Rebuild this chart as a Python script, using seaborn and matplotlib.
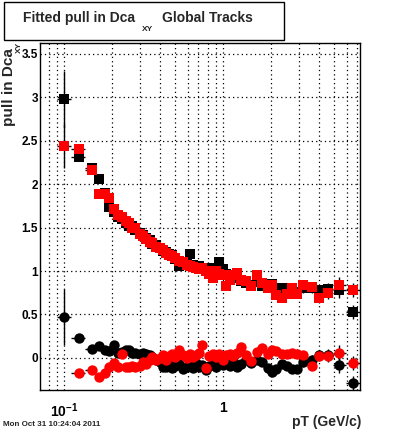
import numpy as np
import pandas as pd
import seaborn as sns
import matplotlib
matplotlib.use("Agg")
import matplotlib.pyplot as plt
from matplotlib.patches import Rectangle
from matplotlib.ticker import FixedLocator, FixedFormatter, NullFormatter, MultipleLocator

# pT bin centres (GeV/c)
pT = [0.100, 0.124, 0.150, 0.166, 0.180, 0.193, 0.205, 0.218, 0.232, 0.245,
      0.256, 0.268, 0.280, 0.300, 0.315, 0.330, 0.345, 0.360, 0.380, 0.400,
      0.420, 0.440, 0.460, 0.480, 0.500, 0.530, 0.560, 0.590, 0.620, 0.650,
      0.680, 0.710, 0.740, 0.780, 0.820, 0.860, 0.900, 0.950, 1.000, 1.050,
      1.100, 1.150, 1.220, 1.300, 1.400, 1.500, 1.630, 1.760, 1.920, 2.030,
      2.150, 2.350, 2.520, 2.720, 2.920, 3.180, 3.630, 4.010, 4.570, 5.350,
      6.570]

# fitted sigma of the pull (squares)
sigma_black = [2.98, 2.31, 2.19, 2.06, 1.90, 1.74, 1.68, 1.62, 1.60, 1.55,
               1.52, 1.52, 1.47, 1.44, 1.41, 1.38, 1.36, 1.31, 1.30, 1.27,
               1.23, 1.22, 1.20, 1.18, 1.14, 1.06, 1.10, 1.09, 1.20, 1.07,
               1.05, 1.06, 1.02, 1.04, 1.00, 0.99, 1.03, 1.10, 1.02, 0.97,
               0.94, 0.92, 0.93, 0.88, 0.86, 0.84, 0.87, 0.83, 0.80, 0.85,
               0.76, 0.80, 0.78, 0.79, 0.76, 0.80, 0.80, 0.78, 0.79, 0.78,
               0.53]
sigma_red = [2.44, 2.40, 2.16, 1.89, 1.89, 1.84, 1.71, 1.65, 1.62, 1.58,
             1.55, 1.50, 1.49, 1.43, 1.40, 1.37, 1.33, 1.32, 1.28, 1.27,
             1.24, 1.21, 1.18, 1.17, 1.15, 1.12, 1.10, 1.07, 1.06, 1.05,
             1.03, 1.02, 1.04, 1.00, 0.96, 0.92, 1.00, 0.97, 0.95, 0.83,
             0.90, 0.95, 0.98, 0.90, 0.88, 0.83, 0.95, 0.86, 0.80, 0.84,
             0.72, 0.69, 0.74, 0.81, 0.74, 0.84, 0.82, 0.69, 0.75, 0.84,
             0.78]

# fitted mean of the pull (circles)
mean_black = [0.47, 0.23, 0.10, 0.14, 0.09, 0.08, 0.15, 0.06, 0.07, 0.09,
              0.09, 0.06, 0.06, 0.04, 0.06, 0.05, 0.03, 0.01, -0.02, -0.05,
              -0.10, -0.11, -0.08, -0.12, -0.09, -0.07, -0.13, -0.10, -0.08, -0.12,
              -0.06, -0.10, -0.08, -0.14, -0.09, -0.07, -0.10, -0.05, -0.08, -0.06,
              -0.09, -0.04, -0.10, -0.07, -0.03, -0.06, -0.02, -0.05, -0.12, -0.16,
              -0.13, -0.07, -0.09, -0.13, -0.13, -0.05, -0.02, 0.03, 0.03, -0.08,
              -0.29]
mean_red = [np.nan, -0.18, -0.14, -0.22, -0.18, -0.10, -0.06, -0.10, 0.05, -0.10,
            -0.10, -0.09, -0.10, -0.09, -0.05, -0.07, -0.02, 0.01, -0.03, 0.00,
            0.03, -0.02, 0.02, 0.04, 0.01, 0.09, 0.03, 0.00, 0.05, 0.01,
            0.03, 0.06, 0.15, -0.12, 0.02, 0.05, 0.01, 0.04, -0.02, 0.03,
            0.05, 0.02, 0.06, 0.13, 0.03, -0.04, 0.07, 0.11, 0.05, 0.09,
            0.08, 0.04, 0.05, 0.06, 0.05, 0.03, -0.09, 0.02, 0.02, 0.06,
            -0.06]

# statistical errors
err_black = [0.32, 0.04, 0.03, 0.03, 0.03, 0.03, 0.02, 0.02, 0.02, 0.02,
             0.02, 0.02, 0.02, 0.02, 0.02, 0.02, 0.02, 0.02, 0.02, 0.02,
             0.02, 0.02, 0.02, 0.02, 0.02, 0.02, 0.02, 0.02, 0.02, 0.02,
             0.02, 0.02, 0.02, 0.02, 0.02, 0.02, 0.02, 0.02, 0.02, 0.02,
             0.02, 0.02, 0.03, 0.03, 0.03, 0.03, 0.03, 0.03, 0.03, 0.03,
             0.04, 0.04, 0.04, 0.04, 0.05, 0.05, 0.05, 0.06, 0.07, 0.09,
             0.08]
err_red = [0.25, 0.04, 0.03, 0.03, 0.03, 0.03, 0.02, 0.02, 0.02, 0.02,
           0.02, 0.02, 0.02, 0.02, 0.02, 0.02, 0.02, 0.02, 0.02, 0.02,
           0.02, 0.02, 0.02, 0.02, 0.02, 0.02, 0.02, 0.02, 0.02, 0.02,
           0.02, 0.02, 0.02, 0.02, 0.02, 0.02, 0.02, 0.02, 0.02, 0.02,
           0.02, 0.02, 0.03, 0.03, 0.03, 0.03, 0.03, 0.03, 0.03, 0.03,
           0.04, 0.04, 0.04, 0.04, 0.05, 0.05, 0.05, 0.06, 0.07, 0.09,
           0.08]

df = pd.DataFrame({"pT": pT, "sigma_black": sigma_black, "sigma_red": sigma_red,
                   "mean_black": mean_black, "mean_red": mean_red,
                   "err_black": err_black, "err_red": err_red})

# half bin widths from the neighbouring centres (log midpoints)
lx = np.log10(df["pT"].values)
mids = (lx[1:] + lx[:-1]) / 2
edges = np.concatenate([[2 * lx[0] - mids[0]], mids, [2 * lx[-1] - mids[-1]]])
xlo = df["pT"].values - 10 ** edges[:-1]
xhi = 10 ** edges[1:] - df["pT"].values

sns.set_style("white")
plt.rcParams["font.family"] = ["Liberation Sans", "DejaVu Sans"]
plt.rcParams["font.weight"] = "bold"
plt.rcParams["mathtext.fontset"] = "custom"
plt.rcParams["mathtext.rm"] = "Liberation Sans:bold"
plt.rcParams["mathtext.bf"] = "Liberation Sans:bold"

fig = plt.figure(figsize=(4, 4.33), dpi=100, facecolor="white")
ax = fig.add_axes([0.1, 0.0993, 0.8, 0.8014])

ax.set_xscale("log")
ax.set_xlim(0.0706, 7.27)
ax.set_ylim(-0.37, 3.625)

series = [("sigma_black", "err_black", "black", "s", 46),
          ("sigma_red", "err_red", "red", "s", 46),
          ("mean_black", "err_black", "black", "o", 56),
          ("mean_red", "err_red", "red", "o", 56)]
z = 3
for col, ecol, colour, mk, size in series:
    ax.errorbar(df["pT"], df[col], yerr=df[ecol], xerr=[xlo, xhi], fmt="none",
                ecolor="black", elinewidth=1.0, capsize=0, zorder=z)
    sns.scatterplot(data=df, x="pT", y=col, marker=mk, color=colour, s=size,
                    linewidth=0, ax=ax, zorder=z + 1, legend=False)
    z += 2

# ticks like the ROOT canvas
xmajor = [0.1, 1.0]
xminor = [0.08, 0.09, 0.2, 0.3, 0.4, 0.5, 0.6, 0.7, 0.8, 0.9,
          2, 3, 4, 5, 6, 7]
ax.xaxis.set_major_locator(FixedLocator(xmajor))
ax.xaxis.set_major_formatter(FixedFormatter([r"$\mathbf{10^{-1}}$", "1"]))
ax.xaxis.set_minor_locator(FixedLocator(xminor))
ax.xaxis.set_minor_formatter(NullFormatter())
ax.yaxis.set_minor_locator(MultipleLocator(0.1))
ax.set_yticks([0, 0.5, 1, 1.5, 2, 2.5, 3, 3.5])
ax.set_yticklabels(["0", "0.5", "1", "1.5", "2", "2.5", "3", "3.5"])

ax.tick_params(axis="both", which="both", direction="in", colors="black",
               width=0.8, labelsize=8.5)
ax.tick_params(axis="both", which="major", length=7)
ax.tick_params(axis="both", which="minor", length=4)
ax.tick_params(axis="x", which="major", pad=8, labelsize=10)
ax.tick_params(axis="y", which="major", pad=1.5)
for lab in ax.get_xticklabels() + ax.get_yticklabels():
    lab.set_fontweight("bold")

ax.grid(True, which="major", axis="both", color="black", linestyle=(0, (1, 2.5)), linewidth=0.9)
ax.grid(True, which="minor", axis="x", color="black", linestyle=(0, (1, 2.5)), linewidth=0.9)
ax.set_axisbelow(True)
for sp in ax.spines.values():
    sp.set_color("black")
    sp.set_linewidth(1.0)
ax.set_xlabel("")
ax.set_ylabel("")

# axis titles
fig.text(361 / 400, 1 - 422 / 433, "pT (GeV/c)", ha="right", va="center",
         fontsize=10, fontweight="bold")
fig.text(9.5 / 400, 1 - 48 / 433, "pull in Dca", rotation=90, ha="center", va="top",
         fontsize=11, fontweight="bold")
fig.text(19 / 400, 1 - 42 / 433, "XY", rotation=90, ha="center", va="top",
         fontsize=6, fontweight="bold")

# title box
fig.patches.append(Rectangle((4 / 400, 1 - 40 / 433), 280 / 400, 38 / 433,
                             transform=fig.transFigure, facecolor="white",
                             edgecolor="black", linewidth=1.0))
fig.text(23 / 400, 1 - 21.7 / 433, "Fitted pull in Dca", ha="left", va="baseline",
         fontsize=10, fontweight="bold")
fig.text(142 / 400, 1 - 31 / 433, "XY", ha="left", va="baseline",
         fontsize=6, fontweight="bold")
fig.text(162 / 400, 1 - 21.7 / 433, "Global Tracks", ha="left", va="baseline",
         fontsize=10, fontweight="bold")

# date stamp
fig.text(3 / 400, 1 - 425 / 433, "Mon Oct 31 10:24:04 2011", ha="left", va="center",
         fontsize=5.8, fontweight="bold")

fig.savefig("out.png", dpi=100, facecolor="white")
